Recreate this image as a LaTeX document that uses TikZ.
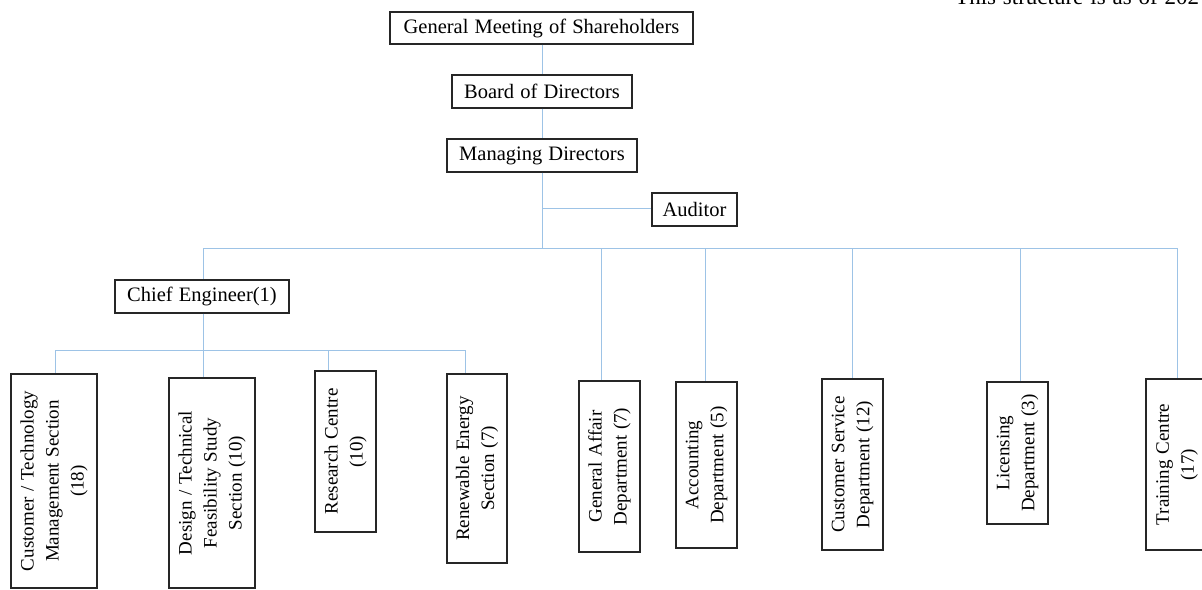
\documentclass[tikz,border=0pt]{standalone}
\usepackage{fontspec}
\setmainfont{Liberation Serif}[WordSpace=1.2]
\definecolor{linkblue}{HTML}{9DC3E6}
\definecolor{boxline}{HTML}{262626}
\begin{document}
\begin{tikzpicture}[x=1pt,y=-1pt,
  hbox/.style={draw=boxline, line width=1.2pt, inner sep=0pt,
    font=\fontsize{20.5}{24}\selectfont},
  vbox/.style={draw=boxline, line width=1.2pt, inner sep=0pt, rotate=90,
    align=center, font=\fontsize{19}{25}\selectfont},
  link/.style={draw=linkblue, line width=1pt}]
\useasboundingbox (0,0) rectangle (1202,589);
\clip (0,0) rectangle (1202,589);

% upper management chain
\node[hbox, minimum width=303pt, minimum height=32pt] (gm) at (541.5,28) {General Meeting of Shareholders};
\node[hbox, minimum width=180pt, minimum height=33pt] (bod) at (542,91.5) {Board of Directors};
\node[hbox, minimum width=190pt, minimum height=33pt] (md) at (542,155.5) {Managing Directors};
\node[hbox, minimum width=85pt, minimum height=33pt] (aud) at (694.5,209.5) {Auditor};
\node[hbox, minimum width=174pt, minimum height=33pt] (chief) at (202,296.5) {Chief Engineer(1)};

% note in the upper right corner
\node[anchor=base west, inner sep=0pt, font=\fontsize{23}{26}\selectfont] (note) at (955,5) {This structure is as of 202};

% sections under the chief engineer (width is the vertical extent)
\node[vbox, minimum width=214pt, minimum height=86pt] (b1) at (54,481) {Customer / Technology\\Management Section\\(18)};
\node[vbox, minimum width=210pt, minimum height=86pt] (b2) at (212,483) {Design / Technical\\Feasibility Study\\Section (10)};
\node[vbox, minimum width=161pt, minimum height=61pt] (b3) at (345.5,451.5) {Research Centre\\(10)};
\node[vbox, minimum width=189pt, minimum height=60pt] (b4) at (477,468.5) {Renewable Energy\\Section (7)};

% departments
\node[vbox, minimum width=171pt, minimum height=61pt] (b5) at (609.5,466.5) {General Affair\\Department (7)};
\node[vbox, minimum width=166pt, minimum height=61pt] (b6) at (706.5,465) {Accounting\\Department (5)};
\node[vbox, minimum width=171pt, minimum height=61pt] (b7) at (852.5,464.5) {Customer Service\\Department (12)};
\node[vbox, minimum width=142pt, minimum height=61pt] (b8) at (1017.5,453) {Licensing\\Department (3)};
\node[vbox, minimum width=171pt, minimum height=62pt] (b9) at (1177,464.5) {Training Centre\\(17)};

% junction points
\coordinate (ja) at (542,208);
\coordinate (j1) at (542,248);
\coordinate (d0) at (203,248);
\coordinate (d5) at (601,248);
\coordinate (d6) at (705,248);
\coordinate (d7) at (852,248);
\coordinate (d8) at (1020,248);
\coordinate (d9) at (1177,248);
\coordinate (c1) at (55,350);
\coordinate (c2) at (203,350);
\coordinate (c3) at (328,350);
\coordinate (c4) at (465,350);

% connectors
\draw[link] (j1 |- gm.south) -- (j1 |- bod.north);
\draw[link] (j1 |- bod.south) -- (j1 |- md.north);
\draw[link] (j1 |- md.south) -- (j1);
\draw[link] (ja) -- (ja -| aud.west);
\draw[link] (d0) -- (d9);
\draw[link] (d0) -- (d0 |- chief.north);
\draw[link] (d5) -- (d5 |- b5.east);
\draw[link] (d6) -- (d6 |- b6.east);
\draw[link] (d7) -- (d7 |- b7.east);
\draw[link] (d8) -- (d8 |- b8.east);
\draw[link] (d9) -- (d9 |- b9.east);
\draw[link] (c2 |- chief.south) -- (c2);
\draw[link] (c1) -- (c4);
\draw[link] (c1) -- (c1 |- b1.east);
\draw[link] (c2) -- (c2 |- b2.east);
\draw[link] (c3) -- (c3 |- b3.east);
\draw[link] (c4) -- (c4 |- b4.east);
\end{tikzpicture}
\end{document}
